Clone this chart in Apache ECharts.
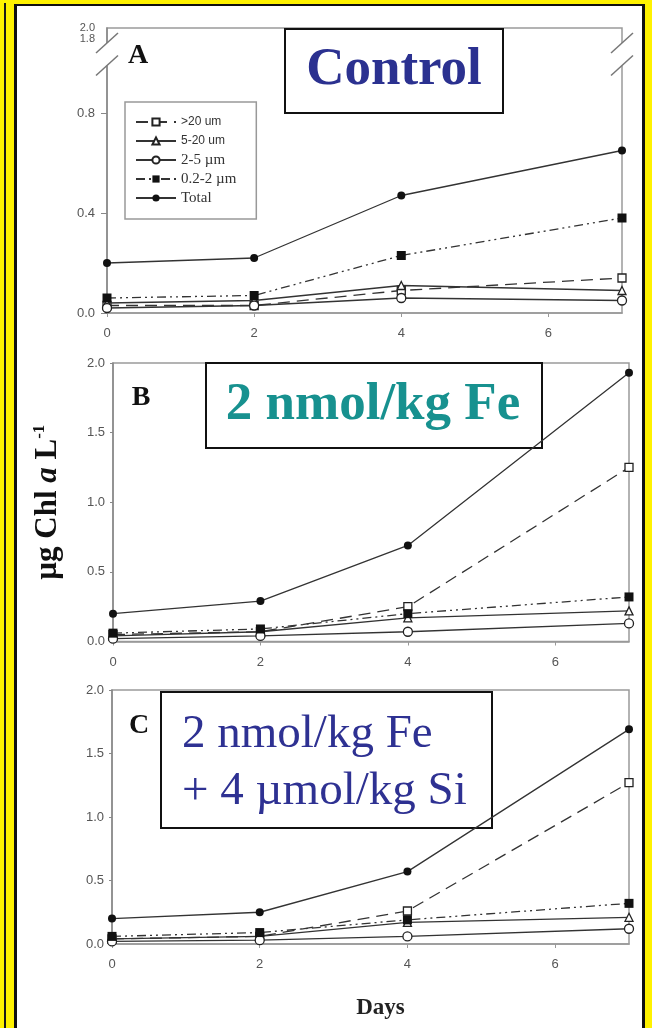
<!DOCTYPE html>
<html>
<head>
<meta charset="utf-8">
<script src="https://cdn.jsdelivr.net/npm/echarts@6/dist/echarts.min.js"></script>
<style>
  html, body { margin: 0; padding: 0; background: #FFF200; }
  #wrap { position: relative; width: 652px; height: 1028px; overflow: hidden; background: #FFF200; }
  #rule { position: absolute; left: 4px; top: 3px; width: 2px; height: 1025px; background: #1a1a1a; }
  #sheet { position: absolute; left: 14px; top: 4px; width: 625px; height: 1040px; background: #fff;
           border-left: 3px solid #111; border-top: 2px solid #111; border-right: 3px solid #111; }
  #chart { position: absolute; left: 0; top: 0; width: 652px; height: 1028px; }
</style>
</head>
<body>
<div id="wrap">
  <div id="rule"></div>
  <div id="sheet"></div>
  <div id="chart"></div>
</div>
<script>
// Sampling days
const days = [0, 2, 4, 7];
const sizeClasses = ['>20 um', '5-20 um', '2-5 µm', '0.2-2 µm', 'Total'];

// A: Control (µg Chl a per L)
const controlGt20   = [0.03, 0.03, 0.09, 0.14];
const control5to20  = [0.04, 0.05, 0.11, 0.09];
const control2to5   = [0.02, 0.03, 0.06, 0.05];
const control02to2  = [0.06, 0.07, 0.23, 0.38];
const controlTotal  = [0.20, 0.22, 0.47, 0.65];

// B: 2 nmol/kg Fe
const feGt20   = [0.05, 0.07, 0.25, 1.25];
const fe5to20  = [0.04, 0.07, 0.17, 0.22];
const fe2to5   = [0.02, 0.04, 0.07, 0.13];
const fe02to2  = [0.06, 0.09, 0.20, 0.32];
const feTotal  = [0.20, 0.29, 0.69, 1.93];

// C: 2 nmol/kg Fe + 4 µmol/kg Si
const siGt20   = [0.04, 0.06, 0.26, 1.27];
const si5to20  = [0.04, 0.06, 0.17, 0.21];
const si2to5   = [0.02, 0.03, 0.06, 0.12];
const si02to2  = [0.06, 0.09, 0.19, 0.32];
const siTotal  = [0.20, 0.25, 0.57, 1.69];

// Tick labels
const dayTicks = [0, 2, 4, 6];
const controlTicks = [0, 0.4, 0.8];
const controlBreakLabels = ['1.8', '2.0'];
const addTicks = [0, 0.5, 1.0, 1.5, 2.0];

const panels = [
  [controlGt20, control5to20, control2to5, control02to2, controlTotal],
  [feGt20, fe5to20, fe2to5, fe02to2, feTotal],
  [siGt20, si5to20, si2to5, si02to2, siTotal]
];

// ---- styling ----
const SERIF = '"Liberation Serif", "Times New Roman", serif';
const SANS = '"Liberation Sans", Arial, sans-serif';
const INK = '#333';
const markerStyles = [
  { symbol: 'rect',     size: 8,  open: true,  dash: [12, 7] },
  { symbol: 'triangle', size: 8,  open: true,  dash: 'solid' },
  { symbol: 'circle',   size: 9,  open: true,  dash: 'solid' },
  { symbol: 'rect',     size: 9,  open: false, dash: [9, 4, 2, 4, 2, 4] },
  { symbol: 'circle',   size: 8,  open: false, dash: 'solid' }
];

// Panel A's upper axis segment (1.8–2.0) is squeezed above a break
const breakLabelPos = [1.095, 1.14];
const breakGap = [0.99, 1.08];

const grids = [
  { left: 107, top: 28,  width: 515, height: 285 },
  { left: 113, top: 363, width: 516, height: 278.5 },
  { left: 112, top: 690, width: 517, height: 254 }
];

const axisLabelBase = { fontFamily: SANS, fontSize: 13, color: '#555' };

const xAxes = grids.map((g, i) => ({
  type: 'value', gridIndex: i, min: 0, max: 7,
  axisLine: { show: true, lineStyle: { color: '#999', width: 1.5 } },
  axisTick: { show: true, length: 4, lineStyle: { color: '#999' }, customValues: dayTicks },
  axisLabel: Object.assign({ margin: 14, customValues: dayTicks, formatter: v => String(v) }, axisLabelBase),
  splitLine: { show: false }
}));

const yAxes = [
  {
    type: 'value', gridIndex: 0, min: 0, max: 1.14,
    axisLine: { show: true, lineStyle: { color: '#888', width: 1.5 } },
    axisTick: { show: true, length: 6, lineStyle: { color: '#888' }, customValues: controlTicks },
    axisLabel: Object.assign({
      margin: 12,
      showMaxLabel: true, showMinLabel: true, hideOverlap: false,
      customValues: controlTicks.concat(breakLabelPos),
      formatter: v => {
        const k = breakLabelPos.indexOf(v);
        return k >= 0 ? '{s|' + controlBreakLabels[k] + '}' : v.toFixed(1);
      },
      rich: { s: { fontFamily: SANS, fontSize: 11, color: '#555', lineHeight: 10 } }
    }, axisLabelBase),
    splitLine: { show: false }
  },
  {
    type: 'value', gridIndex: 1, min: 0, max: 2,
    axisLine: { show: true, lineStyle: { color: '#888', width: 1.5 } },
    axisTick: { show: true, length: 3, lineStyle: { color: '#888' }, customValues: addTicks },
    axisLabel: Object.assign({ margin: 8, customValues: addTicks, formatter: v => v.toFixed(1) }, axisLabelBase),
    splitLine: { show: false },
    name: '{t|µg Chl }{i|a}{t| L}{s|-1}',
    nameLocation: 'middle', nameRotate: 90, nameGap: 48,
    nameTextStyle: {
      rich: {
        t: { fontFamily: SERIF, fontWeight: 'bold', fontSize: 31, color: '#111', lineHeight: 34 },
        i: { fontFamily: SERIF, fontWeight: 'bold', fontStyle: 'italic', fontSize: 31, color: '#111', lineHeight: 34 },
        s: { fontFamily: SERIF, fontWeight: 'bold', fontSize: 17, color: '#111', verticalAlign: 'top', lineHeight: 18 }
      }
    }
  },
  {
    type: 'value', gridIndex: 2, min: 0, max: 2,
    axisLine: { show: true, lineStyle: { color: '#888', width: 1.5 } },
    axisTick: { show: true, length: 3, lineStyle: { color: '#888' }, customValues: addTicks },
    axisLabel: Object.assign({ margin: 8, customValues: addTicks, formatter: v => v.toFixed(1) }, axisLabelBase),
    splitLine: { show: false }
  }
];

xAxes[2].name = 'Days';
xAxes[2].nameLocation = 'middle';
xAxes[2].nameGap = 53;
xAxes[2].nameTextStyle = { fontFamily: SERIF, fontWeight: 'bold', fontSize: 23, color: '#222', padding: [0, 0, 0, 20] };

const series = [];
panels.forEach((panel, p) => {
  panel.forEach((values, k) => {
    const st = markerStyles[k];
    series.push({
      type: 'line', name: sizeClasses[k], xAxisIndex: p, yAxisIndex: p,
      data: days.map((d, j) => [d, values[j]]),
      symbol: st.symbol, symbolSize: st.size, showSymbol: true,
      lineStyle: { color: INK, width: 1.3, type: st.dash },
      itemStyle: st.open
        ? { color: '#fff', borderColor: '#222', borderWidth: 1.3 }
        : { color: '#111', borderColor: '#111', borderWidth: 0 },
      z: 2 + k,
      animation: false,
      silent: true
    });
  });
});

function box(x, y, w, h, children) {
  return {
    type: 'group', z: 20,
    children: [{ type: 'rect', shape: { x, y, width: w, height: h },
                 style: { fill: '#fff', stroke: '#111', lineWidth: 2 } }].concat(children)
  };
}

const annotations = [
  // panel letters
  { type: 'text', z: 20, style: { x: 138, y: 56, text: 'A', align: 'center', verticalAlign: 'middle',
      font: 'bold 28px ' + SERIF, fill: '#111' } },
  { type: 'text', z: 20, style: { x: 141, y: 398, text: 'B', align: 'center', verticalAlign: 'middle',
      font: 'bold 28px ' + SERIF, fill: '#111' } },
  { type: 'text', z: 20, style: { x: 139, y: 726, text: 'C', align: 'center', verticalAlign: 'middle',
      font: 'bold 28px ' + SERIF, fill: '#111' } },
  // treatment boxes
  box(285, 29, 218, 84, [{ type: 'text', style: { x: 394, y: 70, text: 'Control', align: 'center',
      verticalAlign: 'middle', font: 'bold 53px ' + SERIF, fill: '#2B3190' } }]),
  box(206, 363, 336, 85, [{ type: 'text', style: { x: 373, y: 405, text: '2 nmol/kg Fe', align: 'center',
      verticalAlign: 'middle', font: 'bold 53px ' + SERIF, fill: '#17918F' } }]),
  box(161, 692, 331, 136, [
    { type: 'text', style: { x: 182, y: 735, text: '2 nmol/kg Fe', align: 'left',
      verticalAlign: 'middle', font: '47px ' + SERIF, fill: '#2E3192' } },
    { type: 'text', style: { x: 182, y: 792, text: '+ 4 µmol/kg Si', align: 'left',
      verticalAlign: 'middle', font: '47px ' + SERIF, fill: '#2E3192' } }
  ])
];

const chart = echarts.init(document.getElementById('chart'), null, { renderer: 'canvas' });

chart.setOption({
  animation: false,
  backgroundColor: 'transparent',
  grid: grids.map(g => Object.assign({ show: true, borderColor: '#9a9a9a', borderWidth: 1.5,
                                        backgroundColor: 'transparent' }, g)),
  xAxis: xAxes,
  yAxis: yAxes,
  legend: {
    left: 125, top: 102, orient: 'vertical',
    data: sizeClasses,
    itemWidth: 40, itemHeight: 9, itemGap: 3,
    padding: [12, 20, 13, 10],
    borderColor: '#999', borderWidth: 1.5, backgroundColor: '#fff',
    selectedMode: false,
    formatter: name => sizeClasses.indexOf(name) < 2 ? '{s|' + name + '}' : name,
    textStyle: { fontFamily: SERIF, fontSize: 15, color: '#333', lineHeight: 16,
                 rich: { s: { fontFamily: SANS, fontSize: 12, color: '#333', lineHeight: 16 } } }
  },
  series: series,
  graphic: annotations
});

// Axis break marks on panel A (left and right frame), placed through the axis scales
const breakMarks = [];
[0, 7].forEach(xv => {
  const lo = chart.convertToPixel({ gridIndex: 0 }, [xv, breakGap[0]]);
  const hi = chart.convertToPixel({ gridIndex: 0 }, [xv, breakGap[1]]);
  breakMarks.push({ type: 'rect', z: 30, shape: { x: lo[0] - 4, y: hi[1], width: 8, height: lo[1] - hi[1] },
                    style: { fill: '#fff' } });
  [lo, hi].forEach(pt => {
    breakMarks.push({ type: 'line', z: 31,
      shape: { x1: pt[0] - 11, y1: pt[1] + 10, x2: pt[0] + 11, y2: pt[1] - 10 },
      style: { stroke: '#777', lineWidth: 1.5 } });
  });
});
chart.setOption({ graphic: annotations.concat(breakMarks) });
</script>
</body>
</html>
